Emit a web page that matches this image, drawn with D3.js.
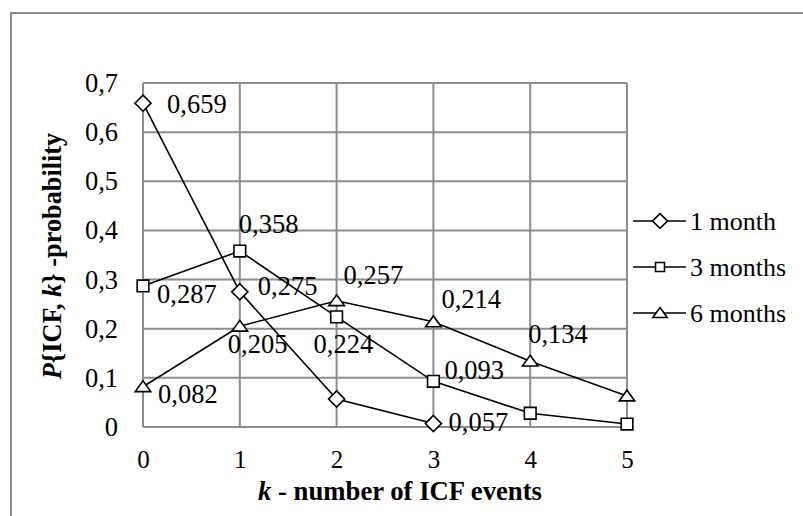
<!DOCTYPE html>
<html>
<head>
<meta charset="utf-8">
<script src="https://cdn.jsdelivr.net/npm/d3@7"></script>
<style>
  html, body { margin: 0; padding: 0; background: #fff; }
  svg { display: block; }
  text { font-family: "Liberation Serif", "Times New Roman", serif; fill: #000; }
</style>
</head>
<body>
<svg id="chart" width="803" height="516"></svg>
<script>
// ---- data ----
const kValues = [0, 1, 2, 3, 4, 5];
const yTicks = [0, 0.1, 0.2, 0.3, 0.4, 0.5, 0.6, 0.7];
const seriesNames = ["1 month", "3 months", "6 months"];
const oneMonth = [0.659, 0.275, 0.057, 0.007];
const threeMonths = [0.287, 0.358, 0.224, 0.093, 0.028, 0.006];
const sixMonths = [0.082, 0.205, 0.257, 0.214, 0.134, 0.063];
// which points carry a value label (index into series)
const oneMonthLabelled = [0, 1, 2];
const threeMonthsLabelled = [0, 1, 2, 3];
const sixMonthsLabelled = [0, 1, 2, 3, 4];
// label offsets in px from the point (layout only)
const oneMonthLabelOffsets = [[24, 10], [18, 3], [112, 32]];
const threeMonthsLabelOffsets = [[14, 17], [-1, -18], [-23, 36], [11, -2]];
const sixMonthsLabelOffsets = [[15, 16], [-12, 27], [7, -17], [8, -14], [-2, -18]];

const series = [
  { name: seriesNames[0], values: oneMonth, marker: "diamond", labelled: oneMonthLabelled, offsets: oneMonthLabelOffsets },
  { name: seriesNames[1], values: threeMonths, marker: "square", labelled: threeMonthsLabelled, offsets: threeMonthsLabelOffsets },
  { name: seriesNames[2], values: sixMonths, marker: "triangle", labelled: sixMonthsLabelled, offsets: sixMonthsLabelOffsets }
];

const locale = d3.formatLocale({ decimal: ",", thousands: " ", grouping: [3], currency: ["", ""] });
const tickFmt = locale.format(".1~f");
const valFmt = locale.format(".3f");

const svg = d3.select("#chart");
const grid = "#8c8c8c";
const fs = 26.5;

// outer chart border
svg.append("rect").attr("x", 11).attr("y", 13).attr("width", 820).attr("height", 540)
  .attr("fill", "none").attr("stroke", grid).attr("stroke-width", 2);

const plot = { left: 143, right: 627, top: 83, bottom: 427 };
const x = d3.scaleLinear().domain([0, 5]).range([plot.left, plot.right]);
const y = d3.scaleLinear().domain([0, 0.7]).range([plot.bottom, plot.top]);

// gridlines
svg.append("g").selectAll("line").data(yTicks).join("line")
  .attr("x1", plot.left).attr("x2", plot.right)
  .attr("y1", d => y(d)).attr("y2", d => y(d))
  .attr("stroke", grid).attr("stroke-width", 2);
svg.append("g").selectAll("line").data(kValues).join("line")
  .attr("x1", d => x(d)).attr("x2", d => x(d))
  .attr("y1", plot.top).attr("y2", plot.bottom)
  .attr("stroke", grid).attr("stroke-width", 2);

// axes (labels only)
const yAxis = svg.append("g").attr("transform", `translate(${plot.left - 25},0)`)
  .call(d3.axisLeft(y).tickValues(yTicks).tickFormat(tickFmt).tickSize(0).tickPadding(0));
yAxis.select(".domain").remove();
yAxis.selectAll("text").attr("font-size", fs).attr("font-family", "Liberation Serif").attr("fill", "#000");

const xAxis = svg.append("g").attr("transform", `translate(0,${plot.bottom + 23})`)
  .call(d3.axisBottom(x).tickValues(kValues).tickFormat(d3.format("d")).tickSize(0).tickPadding(0));
xAxis.select(".domain").remove();
xAxis.selectAll("text").attr("font-size", 25).attr("font-family", "Liberation Serif").attr("fill", "#000");

// axis titles
const xt = svg.append("text").attr("x", 400).attr("y", 500).attr("text-anchor", "middle")
  .attr("font-size", 26.7).attr("font-weight", "bold");
xt.append("tspan").attr("font-style", "italic").text("k");
xt.append("tspan").text(" - number of ICF events");

const yt = svg.append("text").attr("transform", "translate(61,256) rotate(-90)").attr("text-anchor", "middle")
  .attr("font-size", 26.3).attr("font-weight", "bold");
yt.append("tspan").attr("font-style", "italic").text("P");
yt.append("tspan").text("{ICF, ");
yt.append("tspan").attr("font-style", "italic").text("k");
yt.append("tspan").text("} -probability");

// marker paths
function markerPath(type, s) {
  const p = d3.path();
  if (type === "diamond") {
    const r = s * 0.62;
    p.moveTo(0, -r); p.lineTo(r, 0); p.lineTo(0, r); p.lineTo(-r, 0); p.closePath();
  } else if (type === "square") {
    const h = s * 0.45;
    p.rect(-h, -h, 2 * h, 2 * h);
  } else {
    const w = s * 0.6, h = s * 0.5;
    p.moveTo(0, -h * 0.75 - 1); p.lineTo(w, h * 0.75); p.lineTo(-w, h * 0.75); p.closePath();
  }
  return p.toString();
}

const line = d3.line().x((d, i) => x(kValues[i])).y(d => y(d));

series.forEach(s => {
  svg.append("path").attr("d", line(s.values)).attr("fill", "none")
    .attr("stroke", "#000").attr("stroke-width", 1.6);
});
series.forEach(s => {
  svg.append("g").selectAll("path").data(s.values).join("path")
    .attr("transform", (d, i) => `translate(${x(kValues[i])},${y(d)})`)
    .attr("d", markerPath(s.marker, 13))
    .attr("fill", "#fff").attr("stroke", "#000").attr("stroke-width", 1.6);
});
// value labels
series.forEach(s => {
  svg.append("g").selectAll("text").data(s.labelled).join("text")
    .attr("x", (idx, j) => x(kValues[idx]) + s.offsets[j][0])
    .attr("y", (idx, j) => y(s.values[idx]) + s.offsets[j][1])
    .attr("font-size", fs)
    .text(idx => valFmt(s.values[idx]));
});

// legend
const legendY = [221, 267, 313];
const lg = svg.append("g");
series.forEach((s, i) => {
  const g = lg.append("g").attr("transform", `translate(0,${legendY[i]})`);
  g.append("line").attr("x1", 633).attr("x2", 686).attr("y1", 0).attr("y2", 0)
    .attr("stroke", "#000").attr("stroke-width", 1.6);
  g.append("path").attr("transform", "translate(660,0)")
    .attr("d", markerPath(s.marker, s.marker === "square" ? 10 : 12))
    .attr("fill", "#fff").attr("stroke", "#000").attr("stroke-width", 1.6);
  g.append("text").attr("x", 690).attr("y", 0).attr("dy", "0.33em").attr("font-size", 26).text(s.name);
});
</script>
</body>
</html>
